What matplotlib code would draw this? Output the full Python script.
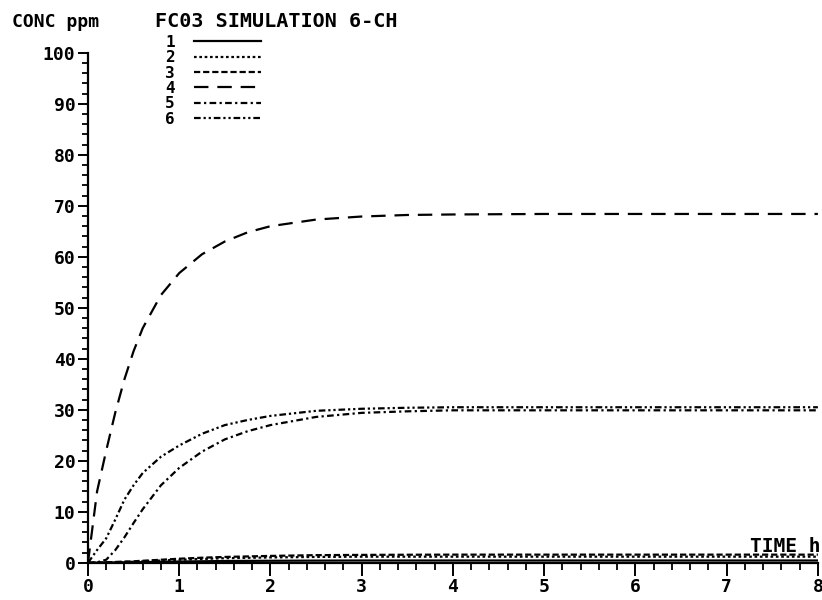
import matplotlib
matplotlib.use('Agg')
import matplotlib.pyplot as plt
from matplotlib.ticker import MultipleLocator, AutoMinorLocator
import numpy as np

# time axis, hours
t = [0, 0.1, 0.2, 0.3, 0.4, 0.5, 0.6, 0.8, 1.0, 1.25, 1.5, 1.75, 2.0, 2.5, 3.0, 3.5, 4.0, 5.0, 6.0, 7.0, 8.0]

# concentrations, ppm
ch1 = [0, 0.02, 0.05, 0.07, 0.09, 0.1, 0.13, 0.2, 0.25, 0.3, 0.35, 0.38, 0.4, 0.43, 0.45, 0.45, 0.45, 0.45, 0.45, 0.45, 0.45]
ch2 = [0, 0.03, 0.07, 0.12, 0.16, 0.2, 0.28, 0.45, 0.6, 0.75, 0.9, 0.98, 1.05, 1.15, 1.2, 1.2, 1.2, 1.2, 1.2, 1.2, 1.2]
ch3 = [0, 0.05, 0.1, 0.17, 0.24, 0.3, 0.4, 0.6, 0.8, 1.0, 1.15, 1.25, 1.35, 1.5, 1.55, 1.58, 1.6, 1.6, 1.6, 1.6, 1.6]
ch4 = [0, 14, 22, 29.5, 36, 41.5, 46, 52.5, 56.8, 60.5, 63, 64.8, 66, 67.3, 67.9, 68.2, 68.3, 68.4, 68.4, 68.4, 68.4]
ch5 = [0, 0.1, 0.6, 2.5, 5, 7.8, 10.5, 15.2, 18.6, 21.8, 24.2, 25.8, 27, 28.6, 29.4, 29.7, 29.9, 29.9, 29.9, 29.9, 29.9]
ch6 = [0, 2.5, 4.8, 8.5, 12.4, 15.2, 17.6, 20.8, 23, 25.3, 27, 28, 28.8, 29.8, 30.2, 30.4, 30.5, 30.5, 30.5, 30.5, 30.5]

labels = ['1', '2', '3', '4', '5', '6']
series = [ch1, ch2, ch3, ch4, ch5, ch6]
styles = ['-', (0, (1.2, 1.2)), (0, (2.8, 1.3)), (0, (6.5, 4)),
          (0, (3, 1.5, 1, 1.5)), (0, (3, 1.3, 1, 1.3, 1, 1.3))]

plt.rcParams['font.family'] = 'DejaVu Sans Mono'
plt.rcParams['font.weight'] = 'bold'

fig = plt.figure(figsize=(8.22, 6.0), dpi=100)
ax = fig.add_axes([0.107, 0.062, 0.888, 0.850])

for y, lab, ls in zip(series, labels, styles):
    ax.plot(t, y, color='k', linewidth=1.6, linestyle=ls, label=lab)

ax.set_xlim(0, 8)
ax.set_ylim(0, 100)
ax.xaxis.set_major_locator(MultipleLocator(1))
ax.yaxis.set_major_locator(MultipleLocator(10))
ax.xaxis.set_minor_locator(AutoMinorLocator(5))
ax.yaxis.set_minor_locator(AutoMinorLocator(5))

for s in ['top', 'right']:
    ax.spines[s].set_visible(False)
for s in ['left', 'bottom']:
    ax.spines[s].set_linewidth(1.6)

ax.tick_params(axis='both', which='major', direction='out', width=1.4, labelsize=13)
ax.tick_params(axis='y', which='major', length=7, pad=2)
ax.tick_params(axis='y', which='minor', length=4, width=1.3)
ax.tick_params(axis='x', which='major', length=9, pad=2)
ax.tick_params(axis='x', which='minor', length=5, width=1.3)

fig.text(0.015, 0.955, 'CONC ppm', fontsize=13, weight='bold')
fig.text(0.188, 0.955, 'FC03 SIMULATION 6-CH', fontsize=14.5, weight='bold')
ax.text(0.907, 0.022, 'TIME h', transform=ax.transAxes, fontsize=14, weight='bold')

leg = ax.legend(loc='upper left', bbox_to_anchor=(0.106, 1.035), frameon=False,
                markerfirst=False, handlelength=4.2, handletextpad=1.2,
                labelspacing=0.02, borderpad=0, borderaxespad=0,
                prop={'family': 'DejaVu Sans Mono', 'weight': 'bold', 'size': 11.5})

fig.savefig('out.png', dpi=100)
